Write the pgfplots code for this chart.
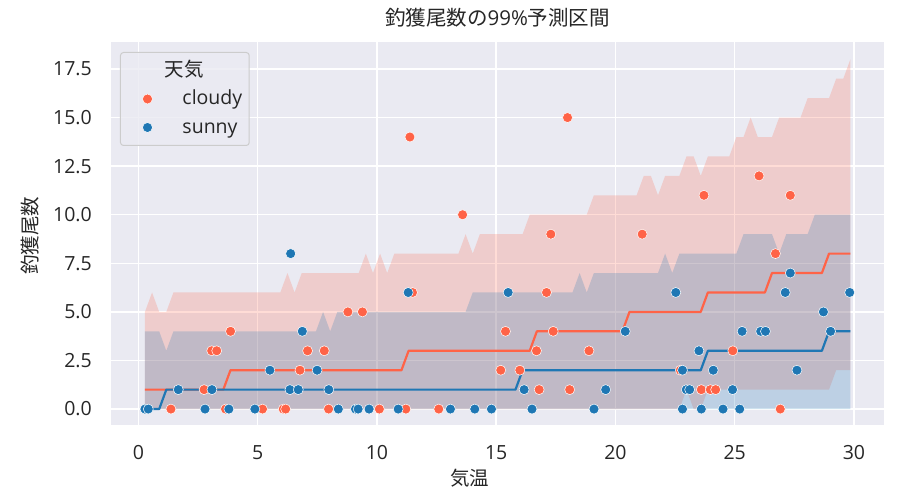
\documentclass[border=0pt]{standalone}
\usepackage{fontspec}
\setmainfont{Open Sans}
\newfontfamily\jp{Noto Sans CJK JP}
\usepackage{pgfplots}
\pgfplotsset{compat=1.18}
\definecolor{bgc}{HTML}{EAEAF2}
\definecolor{cloudyc}{HTML}{FF6347}
\definecolor{sunnyc}{HTML}{1F77B4}
\definecolor{txt}{HTML}{262626}
\definecolor{legedge}{HTML}{CCCCCC}
\newcommand\fs{\fontsize{19.5}{23}\selectfont}
\newcommand\fst{\fontsize{20.5}{24}\selectfont}
\begin{document}
\begin{tikzpicture}
\useasboundingbox (-111pt,-69pt) rectangle (794pt,425pt);
\begin{axis}[
  at={(0,0)}, anchor=south west,
  scale only axis, width=773pt, height=383pt,
  xmin=-1.153, xmax=31.26, ymin=-0.82, ymax=18.89,
  axis background/.style={fill=bgc},
  axis line style={draw=none},
  grid=major, grid style={white, line width=1.5pt},
  major tick length=0pt,
  xtick={0,5,...,30}, ytick={0,2.5,...,17.5},
  /pgf/number format/assume math mode=true,
  yticklabel style={/pgf/number format/fixed, /pgf/number format/fixed zerofill, /pgf/number format/precision=1, anchor=east, inner sep=0pt, xshift=-19pt},
  xticklabel style={anchor=north, inner sep=0pt, yshift=-20pt},
  tick label style={font=\fs, text=txt},
  title={{\jp 釣獲尾数の}99\%{\jp 予測区間}},
  title style={at={(axis description cs:0.5,1)}, anchor=center, yshift=18pt, font=\fst, text=txt, inner sep=0pt},
  xlabel={\jp 気温},
  ylabel={\jp 釣獲尾数},
  every axis x label/.style={at={(axis description cs:0.4644,-0.1384)}, anchor=center, font=\fs, text=txt, inner sep=0pt},
  every axis y label/.style={at={(axis description cs:-0.1048,0.4935)}, anchor=center, rotate=90, font=\fs, text=txt, inner sep=0pt},
  legend style={at={(axis description cs:0.01164,0.97389)}, anchor=north west, draw=legedge, line width=1pt, fill=bgc, fill opacity=0.8, draw opacity=1, text opacity=1, rounded corners=3pt, inner xsep=7pt, inner ysep=9pt, row sep=10.5pt, column sep=0pt, font=\fs, text=txt, nodes={inner sep=0pt, text height=15pt, text depth=3pt}},
  legend cell align=left,
]
\addlegendimage{empty legend}
\addlegendentry{\hspace*{-17.5pt}{\jp 天気}}
\addlegendimage{legend image code/.code={\path[draw=none, fill=none] (0pt,-3pt) rectangle (55pt,3pt); \path[fill=cloudyc, fill opacity=1, draw=white, draw opacity=1, line width=0.5pt] (20pt,0pt) circle (5pt);}}
\addlegendentry{cloudy}
\addlegendimage{legend image code/.code={\path[draw=none, fill=none] (0pt,-3pt) rectangle (55pt,3pt); \path[fill=sunnyc, fill opacity=1, draw=white, draw opacity=1, line width=0.5pt] (20pt,0pt) circle (5pt);}}
\addlegendentry{sunny}

% scatter: cloudy
\addplot[forget plot, only marks, mark=*, mark size=5pt, mark options={fill=cloudyc, draw=white, line width=0.5pt}] coordinates {
(1.36,0)(2.75,1)(3.07,3)(3.28,3)(3.65,0)(3.86,4)(5.2,0)(6.07,0)(6.17,0)(6.77,2)(7.09,3)(7.79,3)(7.97,0)(8.78,5)(9.39,5)(10.1,0)(11.21,0)(11.38,14)(11.49,6)(12.59,0)(13.59,10)(15.19,2)(15.39,4)(15.99,2)(16.69,3)(16.8,1)(17.11,6)(17.29,9)(17.39,4)(17.99,15)(18.08,1)(18.89,3)(21.12,9)(22.72,2)(23.6,1)(23.71,11)(23.98,1)(24.2,1)(24.92,3)(26.02,12)(26.71,8)(26.91,0)(27.33,11)
};
% scatter: sunny
\addplot[forget plot, only marks, mark=*, mark size=5pt, mark options={fill=sunnyc, draw=white, line width=0.5pt}] coordinates {
(0.27,0)(0.41,0)(1.67,1)(2.79,0)(3.08,1)(3.79,0)(4.88,0)(5.51,2)(6.35,1)(6.38,8)(6.70,1)(6.87,4)(7.49,2)(7.98,1)(8.38,0)(9.1,0)(9.21,0)(9.67,0)(10.89,0)(11.31,6)(13.08,0)(14.1,0)(14.8,0)(15.5,6)(16.17,1)(16.5,0)(19.1,0)(19.59,1)(20.41,4)(22.53,6)(22.81,2)(22.81,0)(22.97,1)(23.11,1)(23.5,3)(23.6,0)(24.1,2)(24.51,0)(24.91,1)(25.21,0)(25.31,4)(26.09,4)(26.29,4)(27.12,6)(27.33,7)(27.61,2)(28.72,5)(29.02,4)(29.82,6)
};
% prediction band: cloudy (upper, then lower reversed)
\addplot[forget plot, draw=none, fill=cloudyc, fill opacity=0.22] coordinates {
(0.270,5)(0.569,6)(0.868,5)(1.166,5)(1.465,6)(5.947,6)(6.246,7)(6.545,6)(6.844,7)(9.234,7)(9.533,8)(9.832,7)(10.130,8)(10.429,7)(10.728,8)(13.417,8)(13.716,9)(14.015,8)(14.314,9)(16.106,9)(16.405,10)(18.796,10)(19.094,11)(20.887,11)(21.186,12)(21.485,12)(21.784,11)(22.082,12)(22.680,12)(22.979,13)(23.278,13)(23.576,12)(23.875,13)(24.772,13)(25.070,14)(25.369,14)(25.668,15)(25.967,14)(26.564,14)(26.863,15)(27.760,15)(28.058,16)(28.955,16)(29.254,17)(29.552,17)(29.851,18)
(29.851,2)(29.254,2)(28.955,1)(23.875,1)(23.576,0)(23.278,0)(22.979,1)(22.680,0)(0.270,0)
};
% prediction band: sunny
\addplot[forget plot, draw=none, fill=sunnyc, fill opacity=0.22] coordinates {
(0.270,4)(0.868,4)(1.166,3)(1.465,4)(7.441,4)(7.740,5)(8.039,4)(8.338,5)(13.716,5)(14.015,6)(18.198,6)(18.497,7)(18.796,6)(19.094,7)(21.784,7)(22.082,8)(22.381,7)(22.680,8)(25.070,8)(25.369,9)(26.564,9)(26.863,8)(27.162,9)(28.058,9)(28.357,10)(29.851,10)
(29.851,0)(0.270,0)
};
% median lines
\addplot[forget plot, cloudyc, line width=2.2pt, line join=round] coordinates {
(0.270,1)(3.557,1)(3.856,2)(11.027,2)(11.326,3)(16.405,3)(16.704,4)(20.290,4)(20.588,5)(23.576,5)(23.875,6)(26.266,6)(26.564,7)(28.656,7)(28.955,8)(29.851,8)
};
\addplot[forget plot, sunnyc, line width=2.2pt, line join=round] coordinates {
(0.270,0)(0.868,0)(1.166,1)(15.808,1)(16.106,2)(23.576,2)(23.875,3)(28.656,3)(28.955,4)(29.851,4)
};
\end{axis}
\end{tikzpicture}
\end{document}
